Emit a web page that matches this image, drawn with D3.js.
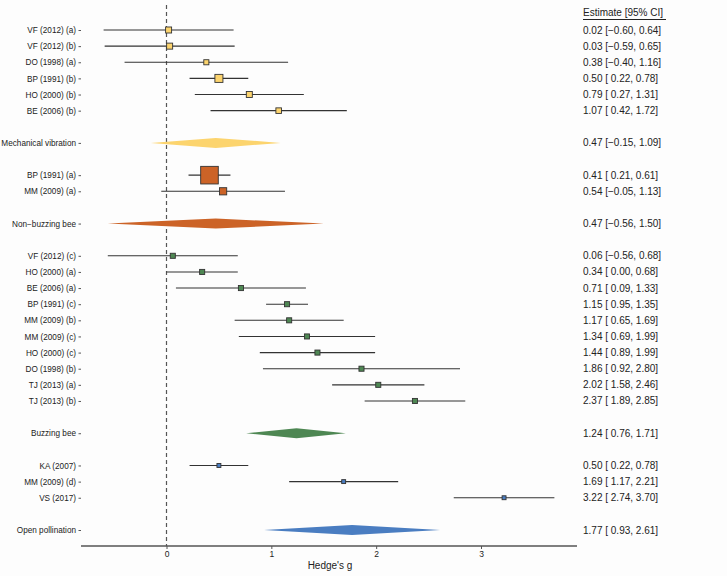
<!DOCTYPE html>
<html>
<head>
<meta charset="utf-8">
<script src="https://cdn.jsdelivr.net/npm/d3@7"></script>
<style>
html,body{margin:0;padding:0;background:#fdfdfd;}
svg{display:block;font-family:"Liberation Sans",Arial,sans-serif;}
</style>
</head>
<body>
<svg id="chart" width="727" height="576"></svg>
<script>
// ---- data ----
const labels = ["VF (2012) (a)","VF (2012) (b)","DO (1998) (a)","BP (1991)  (b)","HO (2000) (b)","BE (2006) (b)","",
  "Mechanical vibration","",
  "BP (1991) (a)","MM (2009) (a)","",
  "Non\u2212buzzing bee","",
  "VF (2012) (c)","HO (2000) (a)","BE (2006) (a)","BP (1991)  (c)","MM (2009) (b)","MM (2009) (c)","HO (2000) (c)","DO (1998)  (b)","TJ (2013) (a)","TJ (2013) (b)","",
  "Buzzing bee","",
  "KA (2007)","MM (2009) (d)","VS (2017) ","",
  "Open pollination"];
const kinds = ["s","s","s","s","s","s","",
  "d","",
  "s","s","",
  "d","",
  "s","s","s","s","s","s","s","s","s","s","",
  "d","",
  "s","s","s","",
  "d"];
const groups = [0,0,0,0,0,0,-1, 0,-1, 1,1,-1, 1,-1, 2,2,2,2,2,2,2,2,2,2,-1, 2,-1, 3,3,3,-1, 3];
const estimates = [0.02,0.03,0.38,0.50,0.79,1.07,null, 0.47,null, 0.41,0.54,null, 0.47,null,
  0.06,0.34,0.71,1.15,1.17,1.34,1.44,1.86,2.02,2.37,null, 1.24,null, 0.50,1.69,3.22,null, 1.77];
const lowers = [-0.60,-0.59,-0.40,0.22,0.27,0.42,null, -0.15,null, 0.21,-0.05,null, -0.56,null,
  -0.56,0.00,0.09,0.95,0.65,0.69,0.89,0.92,1.58,1.89,null, 0.76,null, 0.22,1.17,2.74,null, 0.93];
const uppers = [0.64,0.65,1.16,0.78,1.31,1.72,null, 1.09,null, 0.61,1.13,null, 1.50,null,
  0.68,0.68,1.33,1.35,1.69,1.99,1.99,2.80,2.46,2.85,null, 1.71,null, 0.78,2.21,3.70,null, 2.61];
const weights = [14,14,10,25,14,12,null, null,null, 120,20,null, null,null,
  10,10,10,10,10,10,10,10,10,10,null, null,null, 6,6,6,null, null];
const groupColors = ["#fcd46e","#cc6327","#4e8753","#4a7dc1"];
const xTicks = [0,1,2,3];
const header = "Estimate [95% CI]";

// ---- layout ----
const svg = d3.select("#chart");
const x = d3.scaleLinear().domain([0,3]).range([166.5,481]);
const y = d3.scaleLinear().domain([0,labels.length-1]).range([30,530]);
const size = d3.scaleSqrt().domain([0,120]).range([0,17.6]);
const axisY = 546;
const fmt = d3.format(".2f");
const f2 = v => fmt(v).replace("-","\u2212");

// x axis
const xAxis = d3.axisBottom(x).tickValues(xTicks).tickSize(3).tickFormat(d3.format("d"));
const gx = svg.append("g").attr("transform",`translate(0,${axisY})`).call(xAxis);
gx.select(".domain").remove();
gx.selectAll(".tick line").attr("stroke","#555");
gx.selectAll(".tick text").attr("font-size",8.5).attr("fill","#222").attr("dy","0.55em")
  .attr("font-family","Liberation Sans, Arial, sans-serif");
svg.append("line").attr("x1",81).attr("x2",577).attr("y1",axisY).attr("y2",axisY)
  .attr("stroke","#555").attr("stroke-width",1.3);
svg.append("text").attr("x",330).attr("y",569).attr("text-anchor","middle")
  .attr("font-size",10).attr("fill","#222").text("Hedge's g");

// y axis labels
const idx = labels.map((l,i)=>i).filter(i=>labels[i]!=="");
const yAxis = d3.axisLeft(y).tickValues(idx).tickSize(2.5).tickPadding(2.5).tickFormat(i=>labels[i]);
const gy = svg.append("g").attr("transform","translate(81,0)").call(yAxis);
gy.select(".domain").remove();
gy.selectAll(".tick line").attr("stroke","#555");
gy.selectAll(".tick text").attr("font-size",8.2).attr("fill","#222")
  .attr("font-family","Liberation Sans, Arial, sans-serif");

// zero reference line
svg.append("line").attr("x1",x(0)).attr("x2",x(0)).attr("y1",5).attr("y2",axisY)
  .attr("stroke","#555").attr("stroke-width",1.2).attr("stroke-dasharray","4,3");

// study rows
const studies = idx.filter(i=>kinds[i]==="s");
svg.append("g").selectAll("line").data(studies).join("line")
  .attr("x1",i=>x(lowers[i])).attr("x2",i=>x(uppers[i]))
  .attr("y1",i=>y(i)).attr("y2",i=>y(i))
  .attr("stroke","#333").attr("stroke-width",1.1);
svg.append("g").selectAll("rect").data(studies).join("rect")
  .attr("x",i=>x(estimates[i])-size(weights[i])/2)
  .attr("y",i=>y(i)-size(weights[i])/2)
  .attr("width",i=>size(weights[i])).attr("height",i=>size(weights[i]))
  .attr("fill",i=>groupColors[groups[i]])
  .attr("stroke","#333").attr("stroke-width",0.9);

// summary diamonds
const summaries = idx.filter(i=>kinds[i]==="d");
svg.append("g").selectAll("path").data(summaries).join("path")
  .attr("d",i=>{
    const cy=y(i), h=5;
    return `M${x(lowers[i])},${cy}L${x(estimates[i])},${cy-h}L${x(uppers[i])},${cy}L${x(estimates[i])},${cy+h}Z`;
  })
  .attr("fill",i=>groupColors[groups[i]]);

// right-hand estimates text
svg.append("text").attr("x",583).attr("y",16).attr("font-size",10).attr("fill","#222").text(header);
svg.append("line").attr("x1",583).attr("x2",666).attr("y1",19.5).attr("y2",19.5)
  .attr("stroke","#222").attr("stroke-width",1);
svg.append("g").selectAll("text").data(idx).join("text")
  .attr("x",583).attr("y",i=>y(i)).attr("dy","0.35em")
  .attr("font-size",10).attr("fill","#222")
  .text(i=>{
    const lo = lowers[i]<0 ? f2(lowers[i]) : " "+f2(lowers[i]);
    return `${f2(estimates[i])} [${lo}, ${f2(uppers[i])}]`;
  })
  .attr("xml:space","preserve").style("white-space","pre");
</script>
</body>
</html>
